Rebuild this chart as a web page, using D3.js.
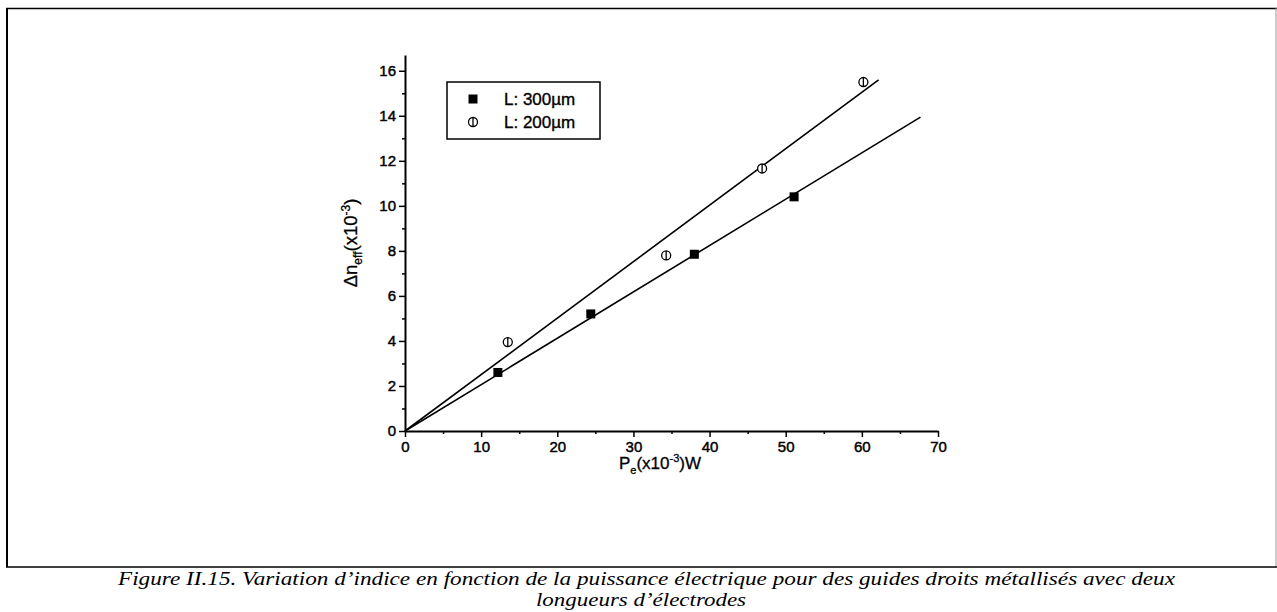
<!DOCTYPE html>
<html>
<head>
<meta charset="utf-8">
<script src="https://cdn.jsdelivr.net/npm/d3@7"></script>
<style>
  body { margin: 0; background: #fff; }
  svg { display: block; }
  .tick text { font-family: "Liberation Sans", Arial, sans-serif; font-size: 15px; stroke: #000; stroke-width: 0.45px; }
</style>
</head>
<body>
<div id="chart"></div>
<script>
// data
const power300 = [12.2, 24.4, 38.0, 51.1];
const dn300 = [2.6, 5.2, 7.85, 10.4];
const power200 = [13.5, 34.3, 46.9, 60.2];
const dn200 = [3.95, 7.8, 11.66, 15.5];
const fitRange300 = [0, 67.7];
const fitRange200 = [0, 62.2];
const xTicks = [0, 10, 20, 30, 40, 50, 60, 70];
const yTicks = [0, 2, 4, 6, 8, 10, 12, 14, 16];
const legendLabels = ["L: 300µm", "L: 200µm"];

const W = 1277, H = 612;
const margin = {left: 405, top: 55, right: W - 938, bottom: H - 431};
const width = W - margin.left - margin.right;
const height = H - margin.top - margin.bottom;

const svg = d3.select("#chart").append("svg")
    .attr("width", W)
    .attr("height", H);

// page frame
svg.append("line").attr("x1", 7).attr("x2", 7).attr("y1", 8).attr("y2", 567)
    .attr("stroke", "#000").attr("stroke-width", 2);
svg.append("line").attr("x1", 6).attr("x2", 1277).attr("y1", 8.5).attr("y2", 8.5)
    .attr("stroke", "#000").attr("stroke-width", 1.5);
svg.append("line").attr("x1", 1276).attr("x2", 1276).attr("y1", 8).attr("y2", 567)
    .attr("stroke", "#999").attr("stroke-width", 1);
svg.append("line").attr("x1", 6).attr("x2", 1277).attr("y1", 567).attr("y2", 567)
    .attr("stroke", "#000").attr("stroke-width", 1.5);

const g = svg.append("g").attr("transform", `translate(${margin.left},${margin.top})`);

const x = d3.scaleLinear().domain([0, 70]).range([0, width]);
const y = d3.scaleLinear().domain([0, 16.7]).range([height, 0]);

// minor ticks
g.append("g").attr("transform", `translate(0,${height})`)
    .call(d3.axisBottom(x).tickValues(d3.range(5, 70, 10)).tickSize(3).tickFormat(""))
    .call(a => a.select(".domain").remove())
    .selectAll("line").attr("stroke-width", 1.5);
g.append("g")
    .call(d3.axisLeft(y).tickValues(d3.range(1, 17, 2)).tickSize(3).tickFormat(""))
    .call(a => a.select(".domain").remove())
    .selectAll("line").attr("stroke-width", 1.5);

// major axes
const xAxis = g.append("g").attr("transform", `translate(0,${height})`)
    .call(d3.axisBottom(x).tickValues(xTicks).tickSize(6).tickSizeOuter(0).tickPadding(4));
const yAxis = g.append("g")
    .call(d3.axisLeft(y).tickValues(yTicks).tickSize(6).tickSizeOuter(0).tickPadding(3));
[xAxis, yAxis].forEach(a => {
    a.select(".domain").attr("stroke-width", 2);
    a.selectAll(".tick line").attr("stroke-width", 1.5);
    a.selectAll(".tick text").attr("fill", "#000");
});

// fitted lines (least squares through origin)
function slope(xs, ys) {
    return d3.sum(xs, (v, i) => v * ys[i]) / d3.sum(xs, v => v * v);
}
const line = d3.line().x(d => x(d[0])).y(d => y(d[1]));
const k300 = slope(power300, dn300);
const k200 = slope(power200, dn200);
g.append("path").datum(fitRange300.map(v => [v, k300 * v]))
    .attr("d", line).attr("fill", "none").attr("stroke", "#000").attr("stroke-width", 1.6);
g.append("path").datum(fitRange200.map(v => [v, k200 * v]))
    .attr("d", line).attr("fill", "none").attr("stroke", "#000").attr("stroke-width", 1.6);

// markers
function square(sel) {
    sel.append("rect").attr("x", -4.5).attr("y", -4.5).attr("width", 9).attr("height", 9).attr("fill", "#000");
}
function circ(sel) {
    sel.append("circle").attr("r", 4.5).attr("fill", "#fff").attr("stroke", "#000").attr("stroke-width", 1.3);
    sel.append("line").attr("x1", 0).attr("x2", 0).attr("y1", -4.5).attr("y2", 4.5)
        .attr("stroke", "#000").attr("stroke-width", 1.3);
}
g.selectAll(".sq").data(power300).enter().append("g").attr("class", "sq")
    .attr("transform", (d, i) => `translate(${x(d)},${y(dn300[i])})`)
    .call(square);
g.selectAll(".ci").data(power200).enter().append("g").attr("class", "ci")
    .attr("transform", (d, i) => `translate(${x(d)},${y(dn200[i])})`)
    .call(circ);

// legend
const leg = svg.append("g").attr("transform", "translate(447,82)");
leg.append("rect").attr("width", 153).attr("height", 57)
    .attr("fill", "#fff").attr("stroke", "#000").attr("stroke-width", 1.5);
const items = leg.selectAll(".item").data(legendLabels).enter().append("g")
    .attr("transform", (d, i) => `translate(0,${17 + i * 23})`);
items.append("g").attr("transform", "translate(26,0)").each(function(d, i) {
    if (i === 0) square(d3.select(this)); else circ(d3.select(this));
});
items.append("text").attr("x", 57).attr("dy", "0.35em")
    .style("font-family", "Liberation Sans, Arial, sans-serif").style("font-size", "17px")
    .style("stroke", "#000").style("stroke-width", "0.35px")
    .text(d => d);

// axis titles
const xt = svg.append("text").attr("x", 660).attr("y", 469).attr("text-anchor", "middle")
    .style("font-family", "Liberation Sans, Arial, sans-serif").style("font-size", "17px")
    .style("stroke", "#000").style("stroke-width", "0.3px");
xt.append("tspan").text("P");
xt.append("tspan").attr("dy", 5).style("font-size", "11px").text("e");
xt.append("tspan").attr("dy", -5).text("(x10");
xt.append("tspan").attr("dy", -7).style("font-size", "11px").text("-3");
xt.append("tspan").attr("dy", 7).text(")W");

const yt = svg.append("text").attr("transform", "translate(357,243) rotate(-90)")
    .attr("text-anchor", "middle")
    .style("font-family", "Liberation Sans, Arial, sans-serif").style("font-size", "18.5px")
    .style("stroke", "#000").style("stroke-width", "0.3px");
yt.append("tspan").text("Δn");
yt.append("tspan").attr("dy", 5).style("font-size", "12px").text("eff");
yt.append("tspan").attr("dy", -5).text("(x10");
yt.append("tspan").attr("dy", -7).style("font-size", "12px").text("-3");
yt.append("tspan").attr("dy", 7).text(")");

// caption
const cap = svg.append("g")
    .style("font-family", "Liberation Serif, 'Times New Roman', serif")
    .style("font-style", "italic").style("font-size", "18px");
cap.append("text").attr("x", 118).attr("y", 585)
    .attr("textLength", 1057).attr("lengthAdjust", "spacingAndGlyphs")
    .text("Figure II.15. Variation d’indice en fonction de la puissance électrique pour des guides droits métallisés avec deux");
cap.append("text").attr("x", 536).attr("y", 606)
    .attr("textLength", 210).attr("lengthAdjust", "spacingAndGlyphs")
    .text("longueurs d’électrodes");
</script>
</body>
</html>
